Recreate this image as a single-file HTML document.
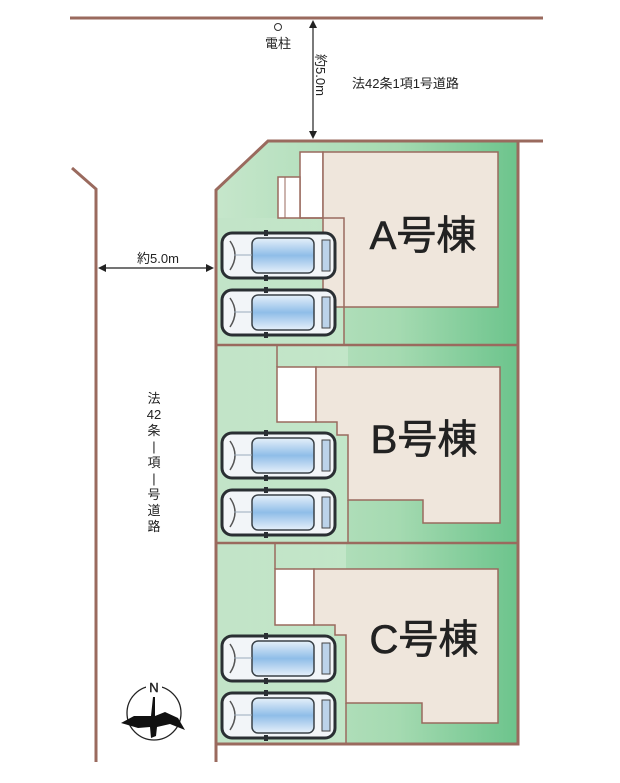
<!DOCTYPE html>
<html><head><meta charset="utf-8"><style>
html,body{margin:0;padding:0;background:#fff;}
svg{display:block;}
text{font-family:"Liberation Sans","Noto Sans CJK JP",sans-serif;fill:#222;}
</style></head><body>
<svg width="620" height="783" viewBox="0 0 620 783" xmlns="http://www.w3.org/2000/svg">
<defs>
<linearGradient id="gr" x1="0" x2="1" y1="0" y2="0">
<stop offset="0" stop-color="#c6e6cb"/><stop offset="0.6" stop-color="#a5dab1"/><stop offset="1" stop-color="#6cc48c"/>
</linearGradient>
<linearGradient id="gl" x1="0" x2="1"><stop offset="0" stop-color="#bfe3c6"/><stop offset="1" stop-color="#d0ebd3"/></linearGradient>
<linearGradient id="cb" x1="0" x2="0" y1="0" y2="1"><stop offset="0" stop-color="#e6f0fa"/><stop offset="0.5" stop-color="#8fbde8"/><stop offset="1" stop-color="#e6f0fa"/></linearGradient>
<g id="car">
<rect x="0" y="0" width="113" height="45" rx="10" fill="#f2f5f8" stroke="#2a2f33" stroke-width="3"/>
<rect x="30" y="5" width="62" height="35" rx="6" fill="url(#cb)" stroke="#3a4248" stroke-width="1.5"/>
<path d="M8 8 Q18 22 8 37" fill="none" stroke="#555" stroke-width="1.5"/>
<path d="M100 7 L108 7 L108 38 L100 38 Z" fill="#bcd3ea" stroke="#444" stroke-width="1"/>
<line x1="30" y1="22" x2="12" y2="22" stroke="#9ab" stroke-width="1"/>
<rect x="42" y="-3" width="4" height="6" fill="#2a2f33"/><rect x="42" y="42" width="4" height="6" fill="#2a2f33"/>
</g>
</defs>
<line x1="70" y1="18" x2="543" y2="18" stroke="#9a6a5e" stroke-width="3"/>
<polyline points="72,168 96,189 96,762" fill="none" stroke="#9a6a5e" stroke-width="3"/>
<polygon points="268,141 518,141 518,744 216,744 216,190" fill="url(#gr)"/>
<rect x="216" y="218" width="128" height="127" fill="url(#gl)" opacity="0.6"/>
<rect x="216" y="345" width="132" height="198" fill="url(#gl)" opacity="0.6"/>
<rect x="216" y="543" width="130" height="201" fill="url(#gl)" opacity="0.6"/>
<!-- House A -->
<rect x="300" y="152" width="23" height="66" fill="#fff" stroke="#9a6a5e" stroke-width="1.5"/>
<rect x="278" y="177" width="22" height="41" fill="#fff" stroke="#9a6a5e" stroke-width="1.5"/>
<line x1="285" y1="177" x2="285" y2="218" stroke="#9a6a5e" stroke-width="1"/>
<rect x="323" y="152" width="175" height="155" fill="#efe6dc" stroke="#9a6a5e" stroke-width="1.5"/>
<polyline points="300,218 344,218 344,345" fill="none" stroke="#9a6a5e" stroke-width="1.5"/>
<!-- House B -->
<line x1="277" y1="345" x2="277" y2="367" stroke="#9a6a5e" stroke-width="1.5"/>
<rect x="277" y="367" width="39" height="55" fill="#fff" stroke="#9a6a5e" stroke-width="1.5"/>
<polygon points="316,367 500,367 500,523 423,523 423,500 348,500 348,435 337,435 337,422 316,422" fill="#efe6dc" stroke="#9a6a5e" stroke-width="1.5"/>
<line x1="348" y1="500" x2="348" y2="543" stroke="#9a6a5e" stroke-width="1.5"/>
<!-- House C -->
<line x1="275" y1="543" x2="275" y2="569" stroke="#9a6a5e" stroke-width="1.5"/>
<rect x="275" y="569" width="39" height="56" fill="#fff" stroke="#9a6a5e" stroke-width="1.5"/>
<polygon points="314,569 498,569 498,723 422,723 422,703 346,703 346,635 335,635 335,625 314,625" fill="#efe6dc" stroke="#9a6a5e" stroke-width="1.5"/>
<line x1="346" y1="703" x2="346" y2="744" stroke="#9a6a5e" stroke-width="1.5"/>
<polygon points="268,141 518,141 518,744 216,744 216,190" fill="none" stroke="#9a6a5e" stroke-width="3"/>
<line x1="518" y1="141" x2="543" y2="141" stroke="#9a6a5e" stroke-width="3"/>
<line x1="216" y1="744" x2="216" y2="762" stroke="#9a6a5e" stroke-width="3"/>
<line x1="216" y1="345" x2="518" y2="345" stroke="#9a6a5e" stroke-width="2.5"/>
<line x1="216" y1="543" x2="518" y2="543" stroke="#9a6a5e" stroke-width="2.5"/>
<use href="#car" x="222" y="233"/><use href="#car" x="222" y="290"/>
<use href="#car" x="222" y="433"/><use href="#car" x="222" y="490"/>
<use href="#car" x="222" y="636"/><use href="#car" x="222" y="693"/>
<g font-size="40" text-anchor="middle" stroke="#222" stroke-width="0.6">
<text x="423" y="249">A号棟</text>
<text x="424" y="453">B号棟</text>
<text x="424" y="653">C号棟</text>
</g>
<circle cx="278" cy="27" r="3.5" fill="#fff" stroke="#333" stroke-width="1"/>
<text x="278" y="48" font-size="13" text-anchor="middle">電柱</text>
<line x1="313" y1="22" x2="313" y2="137" stroke="#222" stroke-width="1.2"/>
<polygon points="313,20 309,28 317,28" fill="#222"/><polygon points="313,139 309,131 317,131" fill="#222"/>
<text transform="translate(316,54) rotate(90)" font-size="13">約5.0m</text>
<text x="352" y="88" font-size="13">法42条1項1号道路</text>
<line x1="100" y1="268" x2="212" y2="268" stroke="#222" stroke-width="1.2"/>
<polygon points="98,268 106,264 106,272" fill="#222"/><polygon points="214,268 206,264 206,272" fill="#222"/>
<text x="158" y="263" font-size="13" text-anchor="middle">約5.0m</text>
<g font-size="13" text-anchor="middle">
<text x="154" y="403">法</text><text x="154" y="419">42</text><text x="154" y="435">条</text>
<text x="154" y="451">|</text><text x="154" y="467">項</text><text x="154" y="483">|</text>
<text x="154" y="499">号</text><text x="154" y="515">道</text><text x="154" y="531">路</text>
</g>
<circle cx="154" cy="713" r="27" fill="none" stroke="#222" stroke-width="1.3"/>
<rect x="146" y="680" width="16" height="14" fill="#fff"/>
<text x="154" y="692" font-size="13" text-anchor="middle" stroke="#222" stroke-width="0.4">N</text>
<path d="M153 697 L155 697 L155 716 L165 712 L178 718 L185 730 L170 724 L157 727 L156 736 L151 738 L150 727 L138 728 L121 723 L134 716 L151 716 Z" fill="#111"/>
</svg>
</body></html>
